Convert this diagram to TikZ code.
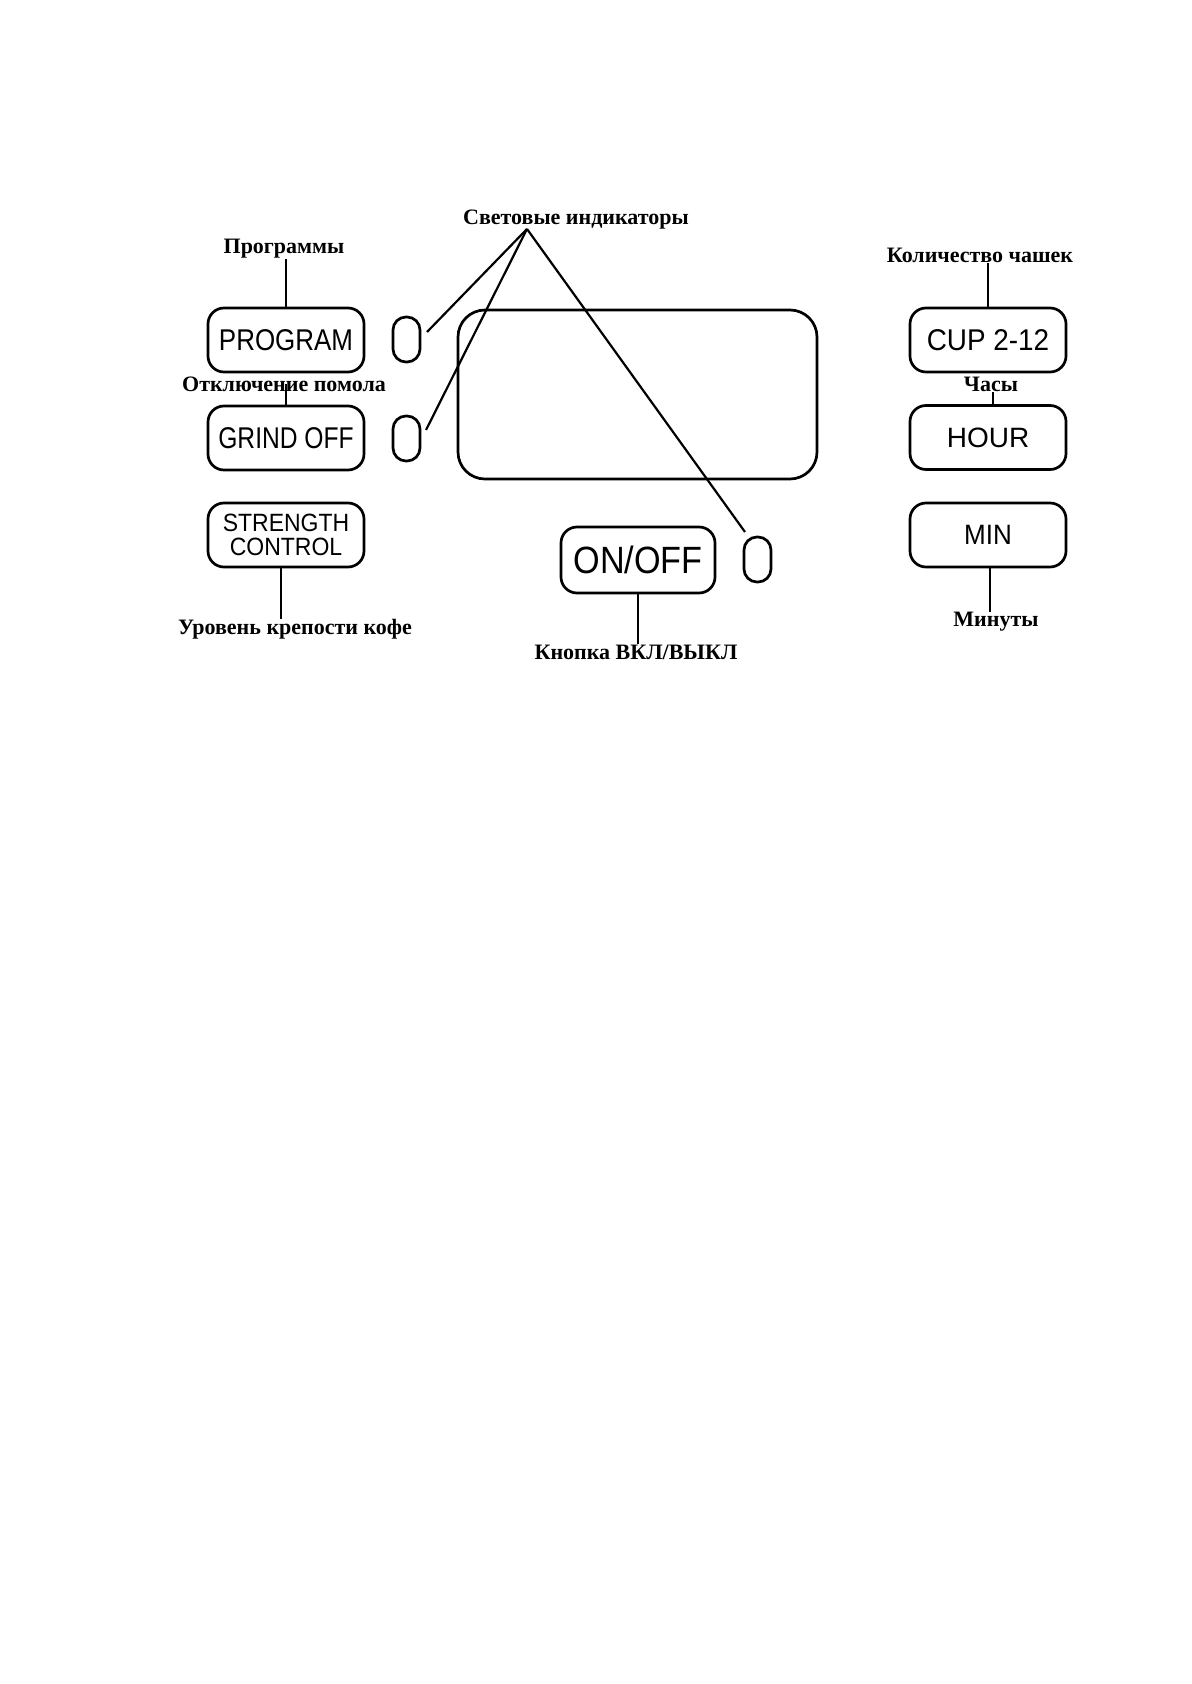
\documentclass[tikz,border=0pt]{standalone}
\usepackage{fontspec}
\setmainfont{Liberation Serif}
\newfontfamily\btnfont{Liberation Sans}
\begin{document}
\begin{tikzpicture}[x=0.5pt,y=-0.5pt,
  btn/.style={draw, line width=1.35pt, rounded corners=8pt, minimum width=78pt, minimum height=32pt, inner sep=0pt, font=\btnfont, align=center},
  led/.style={draw, line width=1.35pt, rounded corners=6.5pt, minimum width=13.5pt, minimum height=22.5pt, inner sep=0pt},
  lbl/.style={font=\bfseries\fontsize{11}{13}\selectfont, inner sep=0pt},
  conn/.style={line width=1.1pt}]
\useasboundingbox (0,0) rectangle (1191,1684);
\fill[white] (0,0) rectangle (1191,1684);

% display
\node[draw, line width=1.35pt, rounded corners=13.5pt, minimum width=179.5pt, minimum height=84.5pt, inner sep=0pt] (disp) at (637.5,394.5) {};

% buttons
\node[btn] (prog) at (286,340) {\fontsize{15}{18}\selectfont\scalebox{0.865}[1]{PROGRAM}};
\node[btn] (grind) at (286,438) {\fontsize{15}{18}\selectfont\scalebox{0.82}[1]{GRIND OFF}};
\node[btn, font={\btnfont\fontsize{12.5}{12}\selectfont}] (strength) at (286,535) {\scalebox{0.92}[1]{STRENGTH}\\\scalebox{0.92}[1]{CONTROL}};
\node[btn] (cup) at (988,340) {\fontsize{15}{18}\selectfont\scalebox{0.93}[1]{CUP 2-12}};
\node[btn] (hour) at (988,437.5) {\fontsize{14}{17}\selectfont HOUR};
\node[btn] (min) at (988,535) {\fontsize{14}{17}\selectfont\scalebox{0.93}[1]{MIN}};
\node[btn, minimum width=77pt, minimum height=33pt] (onoff) at (638,560) {\fontsize{19}{22}\selectfont\scalebox{0.9}[1]{ON/OFF}};

% indicator lamps
\node[led] (ind1) at (406.5,339.5) {};
\node[led] (ind2) at (406.5,438.5) {};
\node[led] (ind3) at (757.5,559.5) {};

% labels
\node[lbl] (lind) at (576,220) {Световые индикаторы};
\node[lbl] (lprog) at (284,249) {Программы};
\node[lbl] (lgrind) at (284,384) {Отключение помола};
\node[lbl] (lstr) at (295,629) {Уровень крепости кофе};
\node[lbl] (lonoff) at (636,652) {Кнопка ВКЛ/ВЫКЛ};
\node[lbl] (lcup) at (980,255) {Количество чашек};
\node[lbl] (lhour) at (991,384) {Часы};
\node[lbl] (lmin) at (996,622) {Минуты};

% connectors
\draw[conn] (prog.north) -- (prog.north |- lprog.south);
\draw[conn] (grind.north) -- (grind.north |- lgrind.center);
\draw[conn] ([xshift=-2.5pt]strength.south) -- ([xshift=-2.5pt]strength.south |- lstr.north);
\draw[conn] (onoff.south) -- (onoff.south |- lonoff.north);
\draw[conn] (cup.north) -- (cup.north |- lcup.south);
\draw[conn] ([xshift=2.5pt]hour.north) -- ([xshift=2.5pt]hour.north |- lhour.south);
\draw[conn] ([xshift=1pt]min.south) -- ([xshift=1pt]min.south |- lmin.north);

\coordinate (apex) at (527,229);
\coordinate (e1) at (427,332);
\coordinate (e2) at (426,430);
\coordinate (e3) at (745,532);
\draw[conn] (apex) -- (e1);
\draw[conn] (apex) -- (e2);
\draw[conn] (apex) -- (e3);
\end{tikzpicture}
\end{document}
